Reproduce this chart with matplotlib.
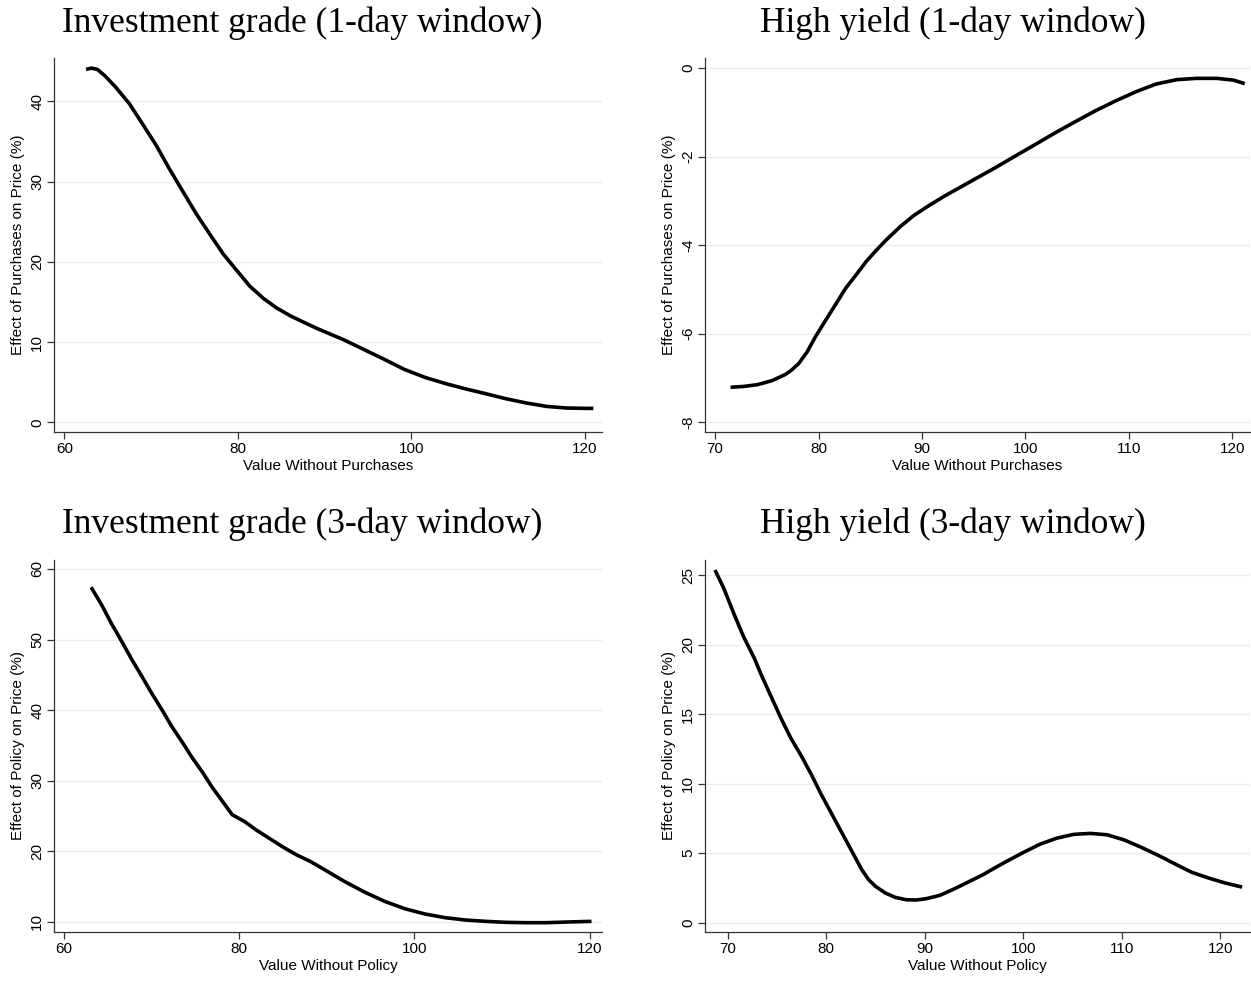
import numpy as np
import matplotlib
matplotlib.use('Agg')
import matplotlib.pyplot as plt

# Investment grade, 1-day window
ig1_x = [62.5, 63.1, 63.8, 64.7, 65.9, 67.5, 69.0, 70.6, 72.1, 73.7, 75.2, 76.8,
         78.3, 79.9, 81.4, 83.0, 84.5, 86.1, 87.7, 89.2, 91.1, 92.2, 94.5, 96.9,
         99.2, 101.6, 103.9, 106.2, 108.6, 110.9, 113.3, 115.6, 117.9, 120.3, 121.0]
ig1_y = [43.98, 44.14, 43.98, 43.15, 41.78, 39.7, 37.2, 34.5, 31.6, 28.7, 26.0, 23.4,
         21.0, 18.9, 16.95, 15.4, 14.24, 13.25, 12.42, 11.67, 10.8, 10.3, 9.1, 7.85,
         6.6, 5.6, 4.85, 4.19, 3.57, 2.95, 2.41, 1.99, 1.79, 1.74, 1.74]

# High yield, 1-day window
hy1_x = [71.5, 72.8, 74.1, 75.5, 76.8, 77.4, 78.1, 78.9, 79.7, 80.7, 81.7, 82.6,
         83.6, 84.6, 85.6, 86.5, 87.9, 89.2, 90.5, 92.1, 93.7, 95.0, 97.0, 98.9,
         100.9, 102.8, 104.8, 106.7, 108.7, 110.7, 112.6, 114.6, 116.5, 118.5, 120.1, 121.2]
hy1_y = [-7.21, -7.19, -7.15, -7.06, -6.92, -6.82, -6.67, -6.41, -6.07, -5.69, -5.32, -4.98,
         -4.68, -4.37, -4.11, -3.89, -3.58, -3.33, -3.13, -2.90, -2.69, -2.52, -2.26, -2.0,
         -1.73, -1.47, -1.21, -0.97, -0.74, -0.53, -0.36, -0.26, -0.23, -0.23, -0.27, -0.35]

# Investment grade, 3-day window
ig3_x = [63.1, 64.3, 65.4, 66.6, 67.7, 68.9, 70.0, 71.2, 72.3, 73.5, 74.6, 75.8,
         76.9, 78.1, 79.2, 80.6, 81.9, 83.5, 85.0, 86.5, 88.1, 89.7, 92.0,
         94.3, 96.6, 98.9, 101.2, 103.5, 105.8, 108.1, 110.4, 112.7, 115.0, 117.3, 120.2]
ig3_y = [57.4, 54.9, 52.3, 49.7, 47.25, 44.75, 42.4, 40.0, 37.67, 35.45, 33.3, 31.2,
         29.07, 27.04, 25.16, 24.21, 23.03, 21.76, 20.58, 19.5, 18.55, 17.4, 15.71,
         14.2, 12.88, 11.84, 11.09, 10.57, 10.24, 10.05, 9.91, 9.86, 9.86, 9.95, 10.05]

# High yield, 3-day window
hy3_x = [68.7, 69.6, 70.6, 71.6, 72.7, 73.4, 74.4, 75.4, 76.4, 77.5, 78.5, 79.5,
         80.6, 81.6, 82.6, 83.6, 84.3, 85.0, 86.0, 87.0, 88.1, 89.1, 90.1, 91.5,
         92.8, 94.2, 95.9, 96.9, 98.3, 100.0, 101.7, 103.4, 105.1, 106.8, 108.5, 110.2,
         111.9, 113.7, 115.4, 117.1, 118.8, 120.5, 122.2]
hy3_y = [25.36, 24.04, 22.25, 20.57, 19.01, 17.82, 16.26, 14.7, 13.27, 11.95, 10.63, 9.2,
         7.76, 6.44, 5.13, 3.81, 3.09, 2.61, 2.13, 1.82, 1.65, 1.63, 1.72, 1.96,
         2.37, 2.85, 3.45, 3.86, 4.41, 5.05, 5.65, 6.08, 6.35, 6.42, 6.32, 5.96,
         5.44, 4.84, 4.22, 3.62, 3.21, 2.85, 2.56]

# Stata-like canvas: 1251 x 990 px
W, H = 1251, 990
fig = plt.figure(figsize=(W / 100, H / 100), dpi=100)
fig.patch.set_facecolor('white')

sans = ['Liberation Sans', 'DejaVu Sans']
serif = ['Liberation Serif', 'DejaVu Serif']


def box(l, r, t, b):
    return [l / W, 1 - b / H, (r - l) / W, (b - t) / H]


panels = [
    dict(pos=box(54, 602, 58, 432), x=ig1_x, y=ig1_y, xlim=(58.8, 122.0), ylim=(-1.2, 45.4),
         xt=[60, 80, 100, 120], yt=[0, 10, 20, 30, 40],
         title='Investment grade (1-day window)', tx=302, ty=32,
         xl='Value Without Purchases', yl='Effect of Purchases on Price (%)'),
    dict(pos=box(705, 1250, 58, 432), x=hy1_x, y=hy1_y, xlim=(69.03, 121.7), ylim=(-8.22, 0.23),
         xt=[70, 80, 90, 100, 110, 120], yt=[0, -2, -4, -6, -8],
         title='High yield (1-day window)', tx=953, ty=32,
         xl='Value Without Purchases', yl='Effect of Purchases on Price (%)'),
    dict(pos=box(54, 602, 560, 932), x=ig3_x, y=ig3_y, xlim=(58.86, 121.4), ylim=(8.54, 61.27),
         xt=[60, 80, 100, 120], yt=[10, 20, 30, 40, 50, 60],
         title='Investment grade (3-day window)', tx=302, ty=533,
         xl='Value Without Policy', yl='Effect of Policy on Price (%)'),
    dict(pos=box(705, 1250, 560, 932), x=hy3_x, y=hy3_y, xlim=(67.69, 123.0), ylim=(-0.67, 26.08),
         xt=[70, 80, 90, 100, 110, 120], yt=[0, 5, 10, 15, 20, 25],
         title='High yield (3-day window)', tx=953, ty=533,
         xl='Value Without Policy', yl='Effect of Policy on Price (%)'),
]

for p in panels:
    ax = fig.add_axes(p['pos'])
    ax.plot(p['x'], p['y'], color='black', lw=2.6, solid_joinstyle='round',
            solid_capstyle='butt', zorder=3)
    ax.set_xlim(p['xlim'])
    ax.set_ylim(p['ylim'])
    ax.set_xticks(p['xt'])
    ax.set_yticks(p['yt'])
    ax.set_yticklabels([str(v) for v in p['yt']], rotation=90, va='center',
                       family=sans, fontsize=11)
    ax.set_xticklabels([str(v) for v in p['xt']], family=sans, fontsize=11)
    ax.tick_params(direction='out', length=5, width=0.9, color='#333333', pad=2)
    for s in ['top', 'right']:
        ax.spines[s].set_visible(False)
    for s in ['left', 'bottom']:
        ax.spines[s].set_linewidth(0.9)
        ax.spines[s].set_color('#333333')
    # light horizontal grid
    ax.grid(axis='y', color='#e6eef0', lw=1.0, zorder=0)
    ax.set_axisbelow(True)
    ax.set_xlabel(p['xl'], family=sans, fontsize=11)
    ax.set_ylabel(p['yl'], family=sans, fontsize=11)
    ax.xaxis.set_label_coords(0.5, -0.091)
    ax.xaxis.label.set_va('center')
    ax.yaxis.set_label_coords(-0.066, 0.5)
    ax.yaxis.label.set_va('center')
    fig.text(p['tx'] / W, 1 - p['ty'] / H, p['title'], family=serif, fontsize=25.5,
             ha='center', va='baseline')

fig.savefig('out.png', dpi=100, facecolor='white')
